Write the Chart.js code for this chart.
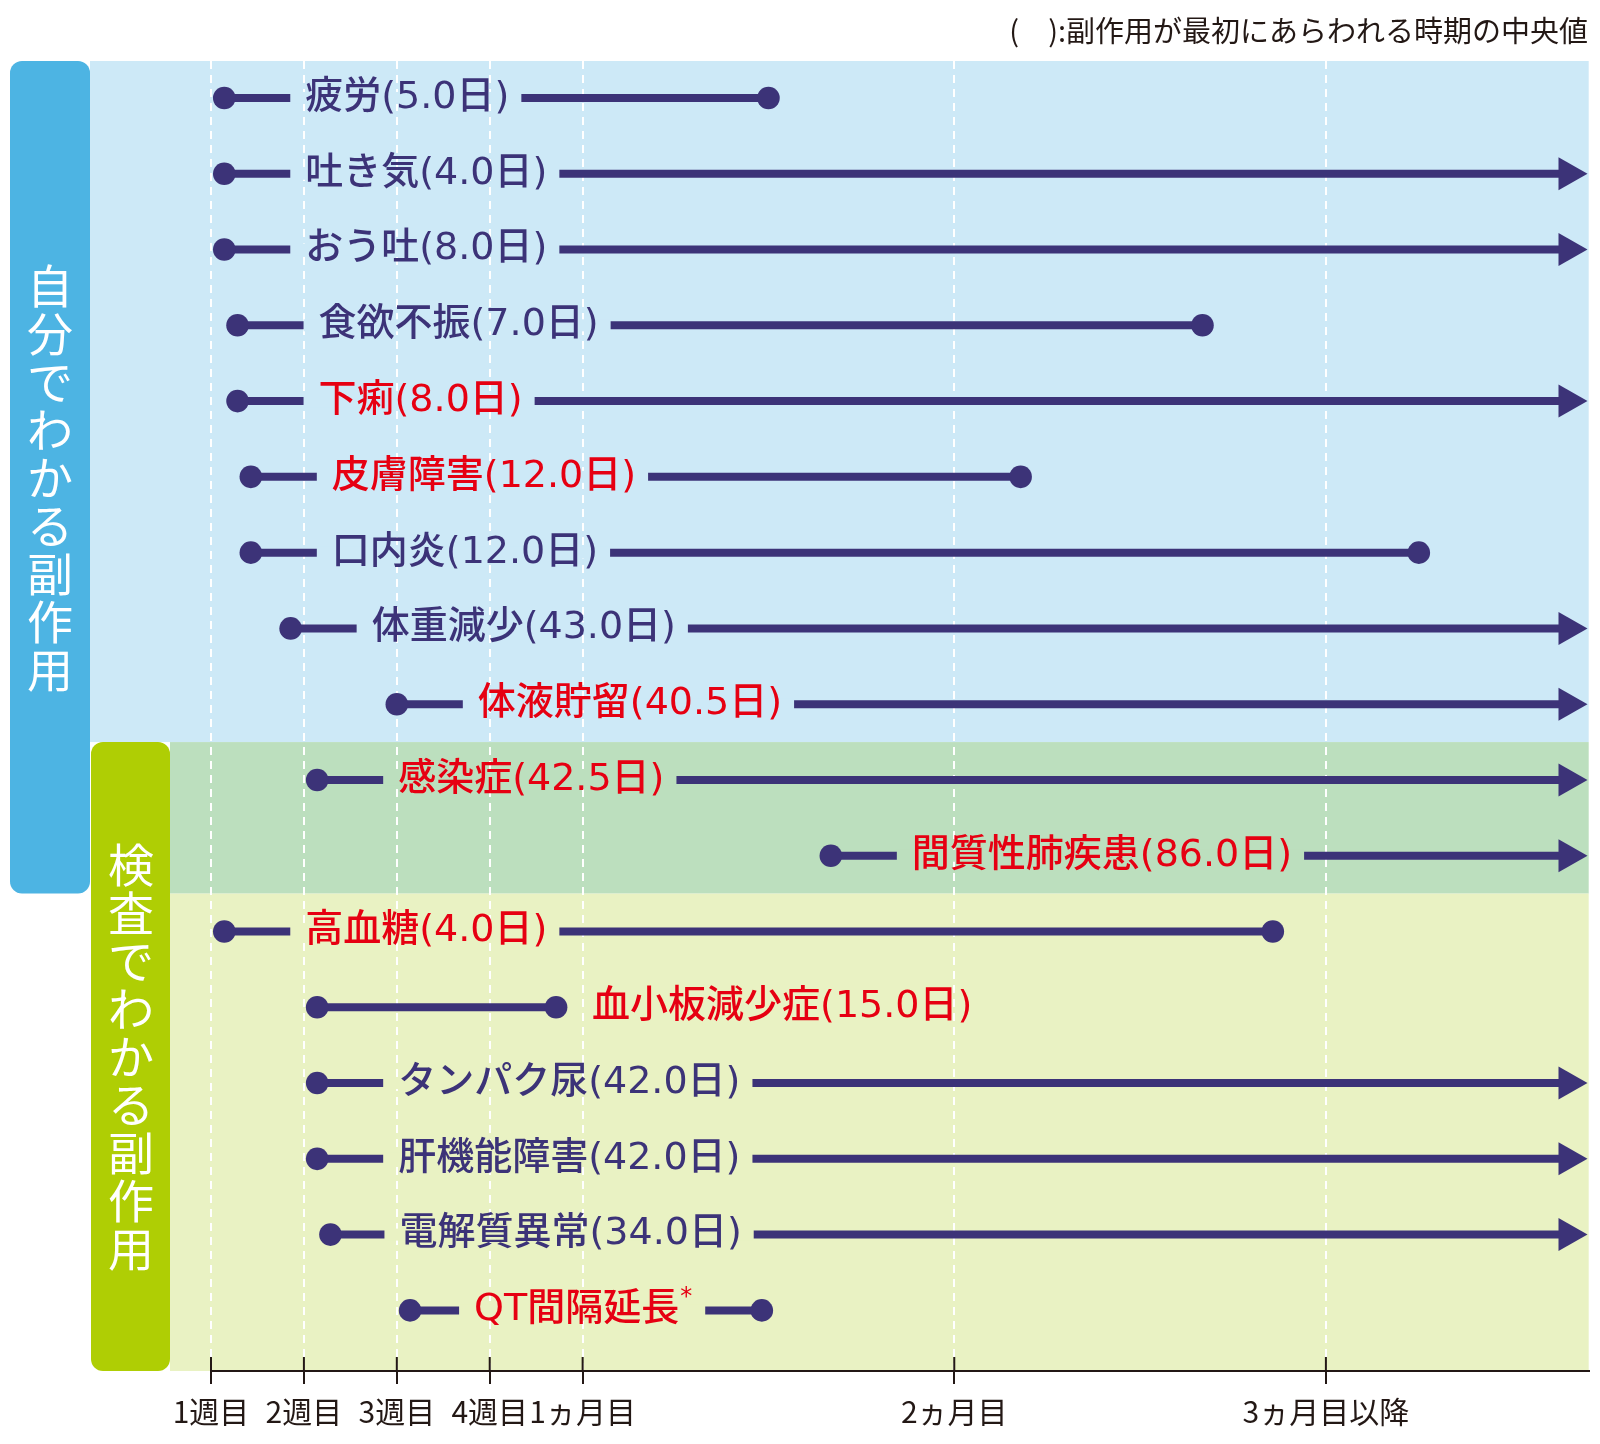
<!DOCTYPE html>
<html lang="ja">

<head>
    <meta charset="UTF-8">
    <meta name="viewport" content="width=device-width, initial-scale=1.0">
    <script src="https://cdn.jsdelivr.net/npm/chart.js"></script>
    <title>副作用があらわれる時期</title>
    <style>
        body { margin: 0; background: #ffffff; }
        canvas { display: block; }
    </style>
</head>

<body>
    <canvas id="myChart" width="1600" height="1444"></canvas>
</body>

</html>

<script>
    // data (days since start of treatment)
    var names = ['疲労', '吐き気', 'おう吐', '食欲不振', '下痢', '皮膚障害', '口内炎', '体重減少', '体液貯留',
        '感染症', '間質性肺疾患', '高血糖', '血小板減少症', 'タンパク尿', '肝機能障害', '電解質異常', 'QT間隔延長']
    var medianDays = [5.0, 4.0, 8.0, 7.0, 8.0, 12.0, 12.0, 43.0, 40.5, 42.5, 86.0, 4.0, 15.0, 42.0, 42.0, 34.0, null]
    var startDays = [8, 8, 8, 9, 9, 10, 10, 13, 21, 15, 53.7, 8, 15, 15, 15, 16, 22]
    // null = still going on after 3 months (arrow)
    var endDays = [49, null, null, 81.7, null, 68, 98, null, null, null, null, 87, 33, null, null, null, 48.5]
    var serious = [false, false, false, false, true, true, false, false, true, true, true, true, true, false, false, false, true]
    var tickDays = [7, 14, 21, 28, 35, 63, 91]
    var tickLabels = ['1週目', '2週目', '3週目', '4週目', '1ヵ月目', '2ヵ月目', '3ヵ月目以降']
    var groupSelf = '自分でわかる副作用'   // rows 0-10
    var groupTest = '検査でわかる副作用'   // rows 9-16
    var note = '(\u3000):副作用が最初にあらわれる時期の中央値'

    // styles
    var NAVY = '#3c3378'
    var RED = '#e60012'
    var INK = '#231815'
    var colors = { blueBox: '#4db4e3', blueBg: '#cde9f7', limeBox: '#afce04', greenBg: '#bcdfbe', yellowBg: '#e9f2c3' }
    var ARROW_DAY = 108.6
    var labelFont = '500 38px "DejaVu Sans", "Noto Sans CJK JP", sans-serif'
    var starFont = '500 24px "DejaVu Sans", sans-serif'
    var labelOffset = { 15: 69, 16: 64 }

    function bandColor(i) {
        if (i < 8.5) return colors.blueBg
        if (i < 10.5) return colors.greenBg
        return colors.yellowBg
    }

    function roundRect(ctx, x, y, w, h, r) {
        ctx.beginPath()
        ctx.moveTo(x + r, y)
        ctx.arcTo(x + w, y, x + w, y + h, r)
        ctx.arcTo(x + w, y + h, x, y + h, r)
        ctx.arcTo(x, y + h, x, y, r)
        ctx.arcTo(x, y, x + w, y, r)
        ctx.closePath()
        ctx.fill()
    }

    // backgrounds and group boxes
    const backgroundPlugin = {
        id: 'bands',
        beforeDraw(chart) {
            const ctx = chart.ctx
            const area = chart.chartArea
            const y = chart.scales.y
            const b1 = y.getPixelForValue(8.5)
            const b2 = y.getPixelForValue(10.5)
            ctx.save()
            ctx.fillStyle = '#ffffff'
            ctx.fillRect(0, 0, chart.width, chart.height)
            ctx.fillStyle = colors.blueBg
            ctx.fillRect(90, area.top, area.right - 90, b1 - area.top)
            ctx.fillStyle = colors.greenBg
            ctx.fillRect(170, b1, area.right - 170, b2 - b1)
            ctx.fillStyle = colors.yellowBg
            ctx.fillRect(170, b2, area.right - 170, area.bottom - b2)
            ctx.fillStyle = colors.blueBox
            roundRect(ctx, 10, area.top, 80, b2 - area.top, 12)
            ctx.fillStyle = colors.limeBox
            roundRect(ctx, 91, b1, 79, area.bottom - b1, 12)

            // vertical group titles
            ctx.fillStyle = '#ffffff'
            ctx.font = '46px "Noto Sans CJK JP", sans-serif'
            ctx.textAlign = 'center'
            ctx.textBaseline = 'middle'
            const drawVertical = (text, cx, cy) => {
                const chars = Array.from(text)
                const y0 = cy - (chars.length - 1) / 2 * 48
                chars.forEach((c, k) => ctx.fillText(c, cx, y0 + k * 48))
            }
            drawVertical(groupSelf, 50, (area.top + b2) / 2)
            drawVertical(groupTest, 131, (b1 + area.bottom) / 2)
            ctx.restore()
        }
    }

    // labels on the lines, arrows, small axis details
    const labelPlugin = {
        id: 'rowLabels',
        afterDatasetsDraw(chart) {
            const ctx = chart.ctx
            const x = chart.scales.x
            const y = chart.scales.y
            ctx.save()
            ctx.textBaseline = 'middle'
            ctx.textAlign = 'left'

            for (let i = 0; i < names.length; i++) {
                const py = y.getPixelForValue(i)
                const startPx = x.getPixelForValue(startDays[i])
                const endPx = x.getPixelForValue(endDays[i] == null ? ARROW_DAY : endDays[i])

                // arrow head
                if (endDays[i] == null) {
                    ctx.fillStyle = NAVY
                    ctx.beginPath()
                    ctx.moveTo(endPx - 1, py - 16.5)
                    ctx.lineTo(endPx + 28, py)
                    ctx.lineTo(endPx - 1, py + 16.5)
                    ctx.closePath()
                    ctx.fill()
                }

                const text = medianDays[i] == null ? names[i] : names[i] + '(' + medianDays[i].toFixed(1) + '日)'
                ctx.font = labelFont
                const w = ctx.measureText(text).width
                let star = 0
                if (medianDays[i] == null) {
                    ctx.font = starFont
                    star = ctx.measureText('*').width + 2
                }
                let tx = startPx + (labelOffset[i] || 81)
                let inline = true
                if (tx + w + star + 27 > endPx) {
                    tx = endPx + 36
                    inline = false
                }
                if (inline) {
                    ctx.fillStyle = bandColor(i)
                    ctx.fillRect(tx - 15, py - 6, w + star + 27, 12)
                }
                ctx.fillStyle = serious[i] ? RED : NAVY
                ctx.font = labelFont
                ctx.fillText(text, tx, py)
                if (star) {
                    ctx.font = starFont
                    ctx.fillText('*', tx + w + 1, py - 13)
                }
            }
            ctx.restore()
        },
        afterDraw(chart) {
            const ctx = chart.ctx
            const x = chart.scales.x
            const area = chart.chartArea
            ctx.save()
            // upper part of the tick marks
            ctx.strokeStyle = INK
            ctx.lineWidth = 2
            tickDays.forEach(d => {
                const px = x.getPixelForValue(d)
                ctx.beginPath()
                ctx.moveTo(px, area.bottom - 14)
                ctx.lineTo(px, area.bottom)
                ctx.stroke()
            })
            // note at the top right
            ctx.fillStyle = INK
            ctx.font = '29px "Noto Sans CJK JP", sans-serif'
            ctx.textAlign = 'right'
            ctx.textBaseline = 'middle'
            ctx.fillText(note, 1588, 31)
            ctx.restore()
        }
    }

    let datasets = []
    for (let i = 0; i < names.length; i++) {
        const end = endDays[i] == null ? ARROW_DAY : endDays[i]
        datasets.push({
            label: names[i],
            data: [{ x: startDays[i], y: i }, { x: end, y: i }],
            showLine: true,
            borderColor: NAVY,
            borderWidth: 8,
            backgroundColor: NAVY,
            pointBackgroundColor: NAVY,
            pointBorderWidth: 0,
            pointRadius: [11.3, endDays[i] == null ? 0 : 11.3],
            pointHoverRadius: [11.3, endDays[i] == null ? 0 : 11.3],
            clip: false
        })
    }

    const config = {
        type: 'scatter',
        data: { datasets: datasets },
        options: {
            responsive: false,
            animation: false,
            events: [],
            layout: { padding: { left: 211, right: 10, top: 61, bottom: 0 } },
            plugins: {
                legend: { display: false },
                tooltip: { enabled: false }
            },
            scales: {
                x: {
                    type: 'linear',
                    position: 'bottom',
                    min: 7,
                    max: 110.8,
                    afterBuildTicks: (axis) => { axis.ticks = tickDays.map(v => ({ value: v })) },
                    afterFit: (axis) => { axis.height = 73 },
                    grid: {
                        color: '#ffffff',
                        lineWidth: 2,
                        tickColor: INK,
                        tickLength: 13,
                        tickWidth: 2
                    },
                    border: { display: true, color: INK, width: 2, dash: [8, 6] },
                    ticks: {
                        autoSkip: false,
                        maxRotation: 0,
                        minRotation: 0,
                        padding: 10,
                        color: INK,
                        font: { family: '"Noto Sans CJK JP", sans-serif', size: 30 },
                        callback: (value) => tickLabels[tickDays.indexOf(value)]
                    }
                },
                y: {
                    type: 'linear',
                    display: false,
                    reverse: true,
                    min: -0.488,
                    max: 16.8
                }
            }
        },
        plugins: [backgroundPlugin, labelPlugin]
    }

    let myChart = new Chart(document.getElementById('myChart'), config)
</script>
